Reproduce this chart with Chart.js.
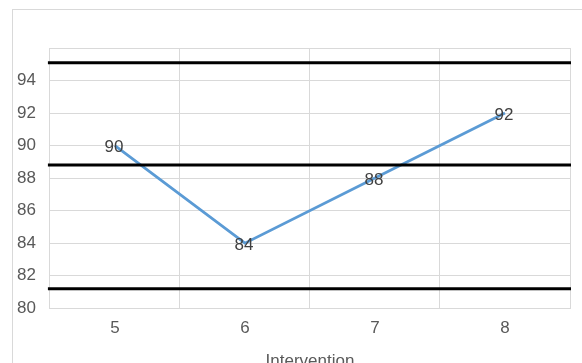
<!DOCTYPE html>
<html>
<head>
<meta charset="utf-8">
<script src="https://cdn.jsdelivr.net/npm/chart.js@4/dist/chart.umd.min.js"></script>
<style>
  html, body { margin: 0; padding: 0; background: #fff; overflow: hidden; width: 582px; height: 363px; }
  #c { position: absolute; left: 0; top: 0; }
  #frame { position: absolute; left: 12px; top: 9px; width: 700px; height: 500px;
           border-left: 1px solid #d9d9d9; border-top: 1px solid #d9d9d9; pointer-events: none; }
</style>
</head>
<body>
<canvas id="c" width="582" height="383"></canvas>
<div id="frame"></div>
<script>
// Scores per intervention
const interventions = ['5', '6', '7', '8'];
const scores = [90, 84, 88, 92];
// Upper limit, centre line, lower limit
const controlLimits = [95.1, 88.8, 81.2];
// Labelled values on the score axis
const yTickLabels = [80, 82, 84, 86, 88, 90, 92, 94];

const FONT = '"Liberation Sans", Arial, sans-serif';

// Horizontal limit lines across the whole plot area
const limitLines = {
  id: 'limitLines',
  afterDatasetsDraw(chart) {
    const { ctx, chartArea, scales } = chart;
    ctx.save();
    ctx.strokeStyle = '#000';
    ctx.lineWidth = 3;
    controlLimits.forEach(v => {
      const y = scales.y.getPixelForValue(v);
      ctx.beginPath();
      ctx.moveTo(chartArea.left - 2, y);
      ctx.lineTo(chartArea.right + 1, y);
      ctx.stroke();
    });
    ctx.restore();
  }
};

// Value labels centred on each point
const valueLabels = {
  id: 'valueLabels',
  afterDraw(chart) {
    const { ctx } = chart;
    const meta = chart.getDatasetMeta(0);
    ctx.save();
    ctx.font = '17px ' + FONT;
    ctx.fillStyle = '#404040';
    ctx.textAlign = 'center';
    ctx.textBaseline = 'middle';
    meta.data.forEach((pt, i) => {
      ctx.fillText(String(scores[i]), pt.x - 1, pt.y + 2);
    });
    ctx.restore();
  }
};

new Chart(document.getElementById('c'), {
  type: 'line',
  data: {
    labels: interventions,
    datasets: [{
      data: scores,
      borderColor: '#5B9BD5',
      borderWidth: 2.8,
      pointRadius: 0,
      tension: 0,
      fill: false
    }]
  },
  options: {
    responsive: false,
    animation: false,
    devicePixelRatio: 1,
    layout: { padding: { left: 3, right: 12, top: 48, bottom: 11 }, autoPadding: false },
    plugins: { legend: { display: false }, tooltip: { enabled: false } },
    scales: {
      x: {
        offset: true,
        grid: { offset: true, color: '#d9d9d9', lineWidth: 1, drawTicks: false },
        border: { color: '#d9d9d9' },
        ticks: { color: '#595959', font: { family: FONT, size: 17 }, padding: 10 },
        title: { display: true, text: 'Intervention', color: '#595959',
                 font: { family: FONT, size: 17 }, padding: { top: 3, bottom: 0 } }
      },
      y: {
        min: 80, max: 96,
        grid: { color: '#d9d9d9', lineWidth: 1, drawTicks: false },
        border: { color: '#d9d9d9' },
        ticks: {
          stepSize: 2,
          color: '#595959',
          font: { family: FONT, size: 17 },
          padding: 14,
          callback: v => yTickLabels.includes(v) ? String(v) : ''
        }
      }
    }
  },
  plugins: [limitLines, valueLabels]
});
</script>
</body>
</html>
